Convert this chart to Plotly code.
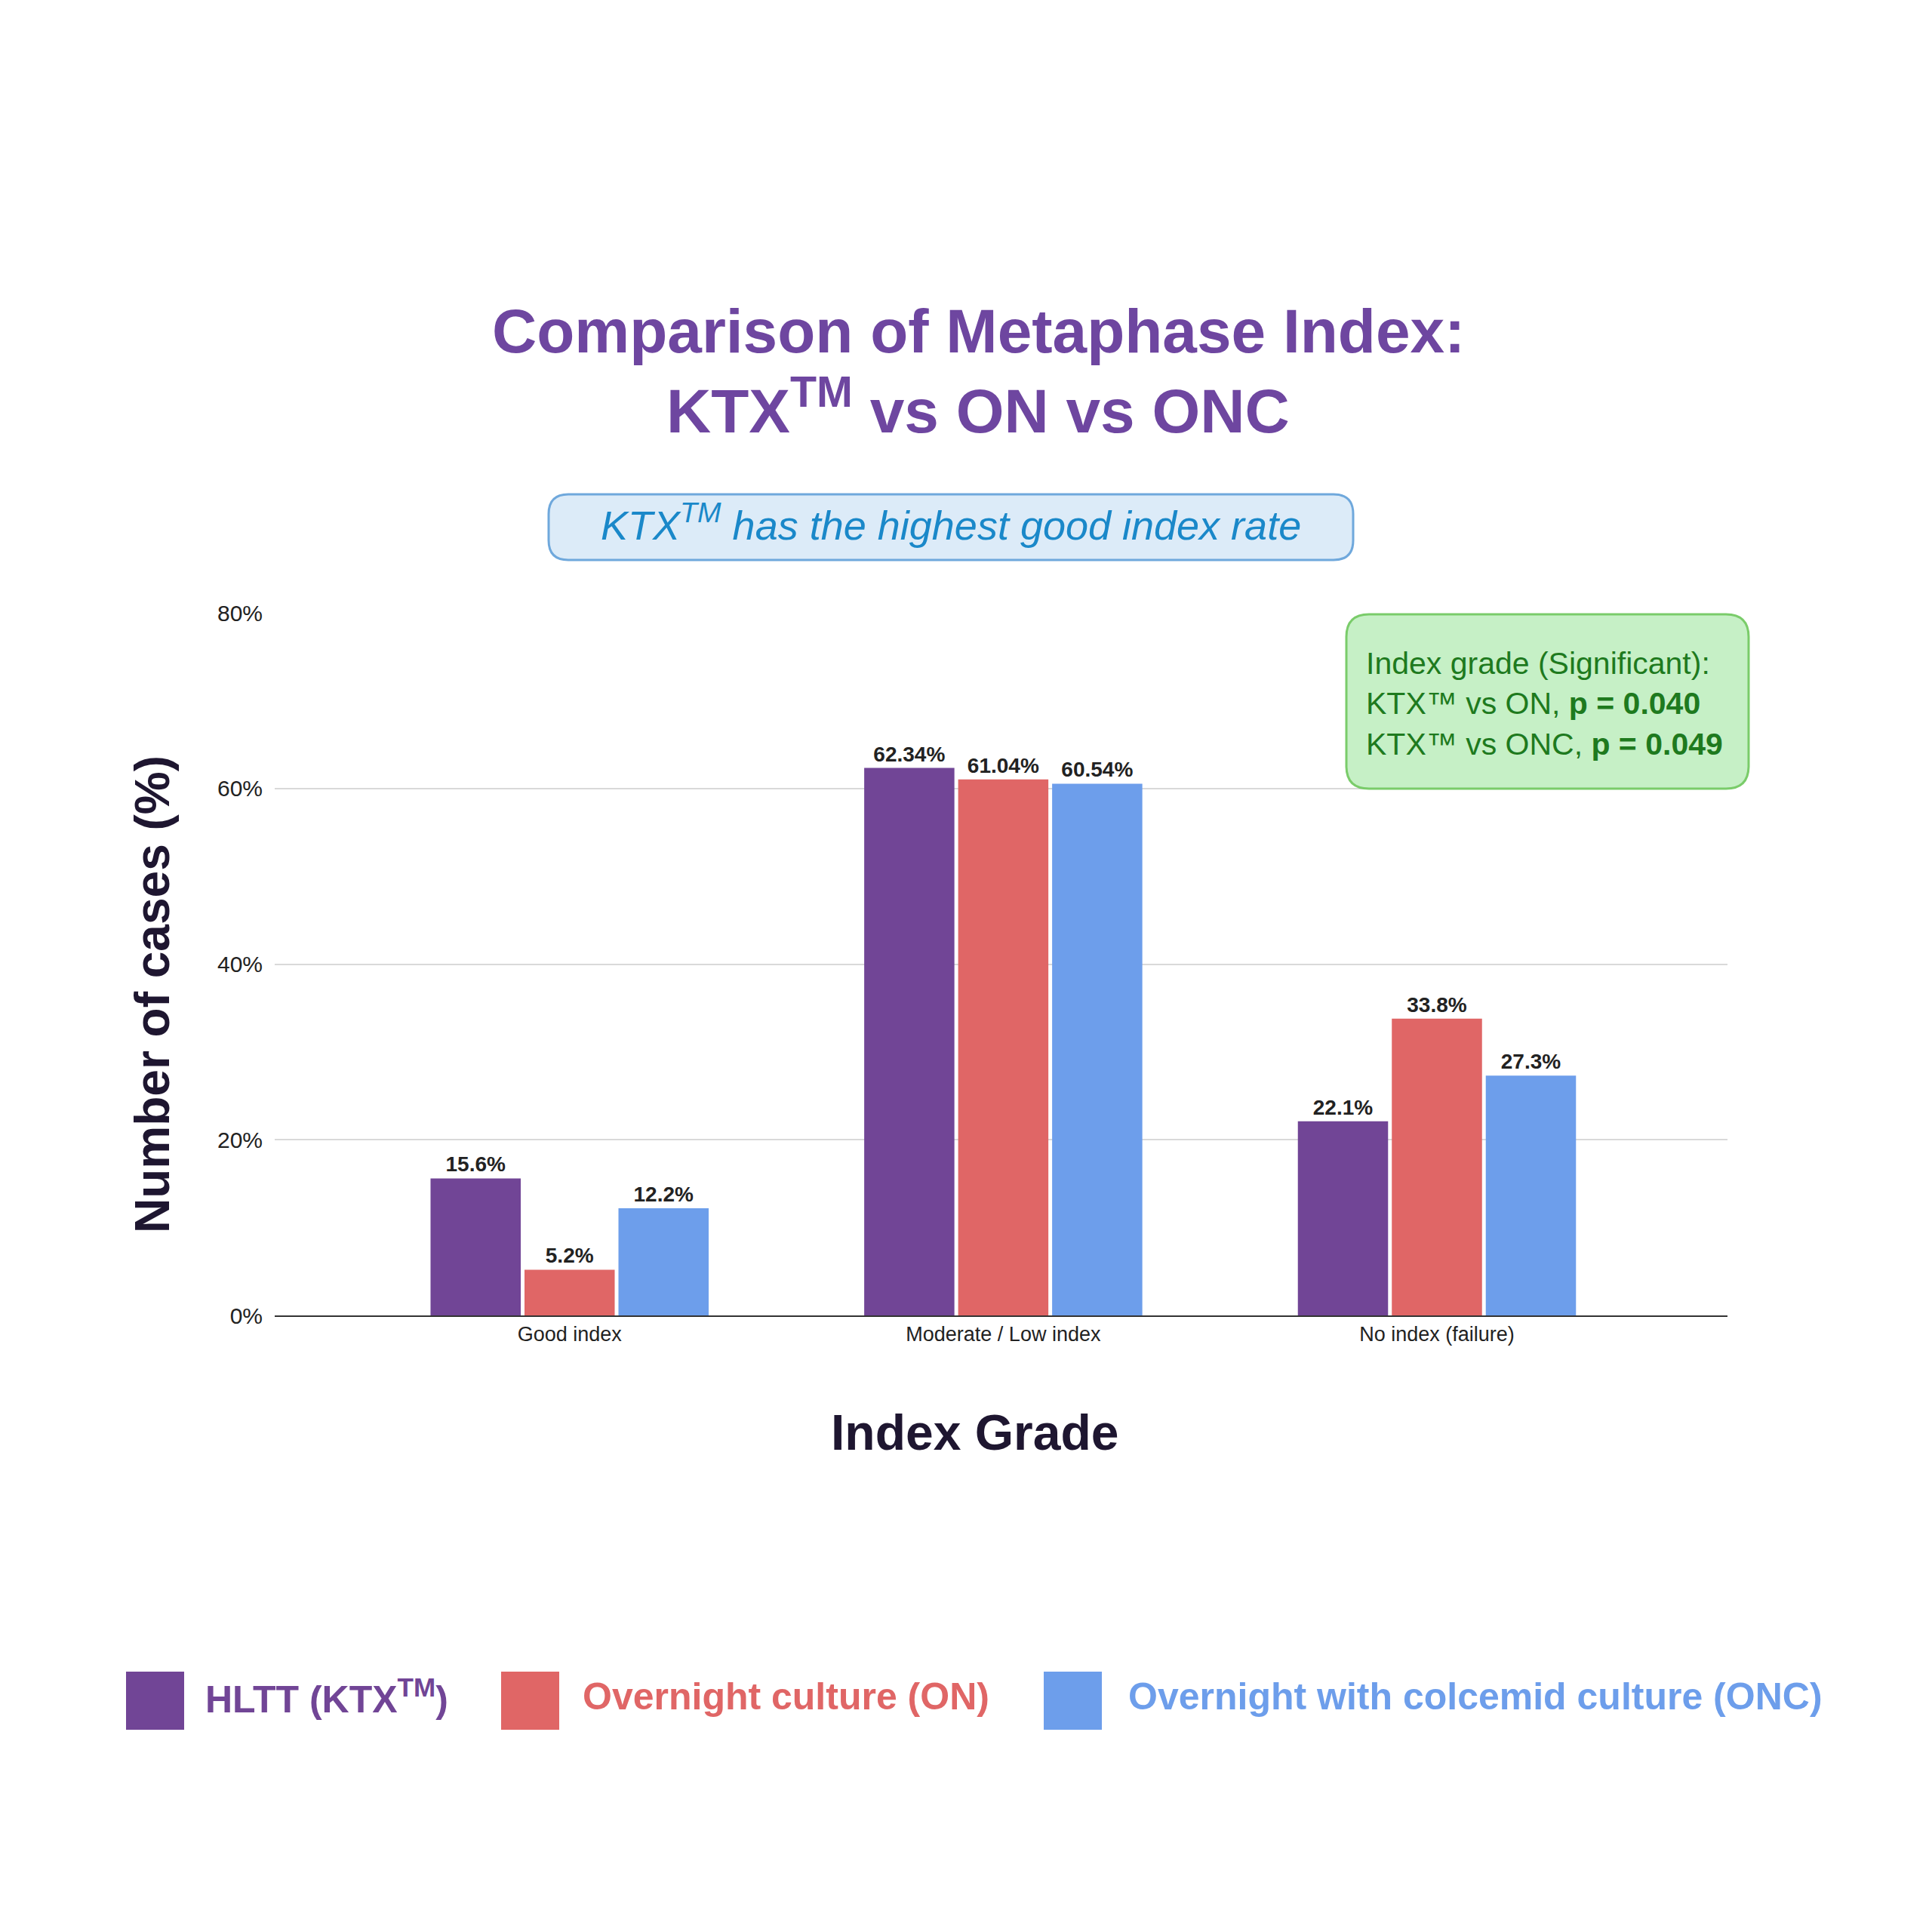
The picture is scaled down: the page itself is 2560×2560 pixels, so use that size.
import plotly.graph_objects as go

categories = ["Good index", "Moderate / Low index", "No index (failure)"]
series_names = ["HLTT (KTX<sup>TM</sup>)", "Overnight culture (ON)", "Overnight with colcemid culture (ONC)"]
ktx = [15.6, 62.34, 22.1]
on = [5.2, 61.04, 33.8]
onc = [12.2, 60.54, 27.3]
ktx_lbl = ["15.6%", "62.34%", "22.1%"]
on_lbl = ["5.2%", "61.04%", "33.8%"]
onc_lbl = ["12.2%", "60.54%", "27.3%"]
yticks = [0, 20, 40, 60, 80]
colors = ["#714596", "#E06666", "#6D9EEB"]
FONT = "Liberation Sans, Arial, sans-serif"

fig = go.Figure()
for vals, lbls, c, n in zip([ktx, on, onc], [ktx_lbl, on_lbl, onc_lbl], colors, series_names):
    fig.add_bar(x=categories, y=vals, text=lbls, textposition="outside", name=n,
                marker=dict(color=c, line=dict(width=0)),
                textfont=dict(family=FONT, size=28, color="#222222", weight="bold"),
                cliponaxis=False)

W = H = 2560
pl, pr, pt, pb = 356, 279, 804, 825
def pxp(x): return (x - pl) / (W - pl - pr)
def pyp(y): return (H - pb - y) / (H - pt - pb)

fig.update_layout(
    width=W, height=H, paper_bgcolor="white", plot_bgcolor="white",
    margin=dict(l=pl, r=pr, t=pt, b=pb),
    barmode="group", bargap=0.35, bargroupgap=0.04, showlegend=False,
    font=dict(family=FONT),
    xaxis=dict(range=[-0.68, 2.67], showline=True, linecolor="#333333", linewidth=2, ticks="",
               tickfont=dict(size=27, color="#222222")),
    yaxis=dict(range=[0, 80], tickvals=yticks, ticktext=[f"{v}%" for v in yticks],
               gridcolor="#D9D9D9", gridwidth=2, zeroline=False,
               tickfont=dict(size=30, color="#222222"), ticklabelstandoff=15),
)

def A(text, x, y, size, color, xanchor="center", **kw):
    return dict(text=text, x=pxp(x), y=pyp(y), xref="paper", yref="paper", showarrow=False,
                xanchor=xanchor, yanchor="middle", font=dict(size=size, color=color, family=FONT), **kw)

annotations = [
    A("<b>Comparison of Metaphase Index:</b>", 1288, 430, 82, "#6E46A0"),
    A("<b>KTX<sup>TM</sup> vs ON vs ONC</b>", 1288, 530, 82, "#6E46A0"),
    A("<i>KTX<sup>TM</sup> has the highest good index rate</i>", 1252, 684, 54, "#1A88C9"),
    A("Index grade (Significant):<br>KTX™ vs ON, <b>p = 0.040</b><br>KTX™ vs ONC, <b>p = 0.049</b>",
      1800, 924, 41, "#1E7A1E", xanchor="left", align="left"),
    A("<b>Number of cases (%)</b>", 194, 1310, 64, "#1E1630", textangle=-90),
    A("<b>Index Grade</b>", 1283, 1890, 66, "#1E1630"),
]
legend_pos = [(159, 262), (656, 762), (1375, 1485)]
for (sx, tx), c, n in zip(legend_pos, colors, series_names):
    annotations.append(A(f"<b>{n}</b>", tx, 2240, 50, c, xanchor="left"))
fig.update_layout(annotations=annotations)

def rrect(x0, y0, x1, y1, r):
    X = lambda v: f"{pxp(v):.5f}"
    Y = lambda v: f"{pyp(v):.5f}"
    return (f"M {X(x0+r)},{Y(y0)} L {X(x1-r)},{Y(y0)} Q {X(x1)},{Y(y0)} {X(x1)},{Y(y0+r)} "
            f"L {X(x1)},{Y(y1-r)} Q {X(x1)},{Y(y1)} {X(x1-r)},{Y(y1)} L {X(x0+r)},{Y(y1)} "
            f"Q {X(x0)},{Y(y1)} {X(x0)},{Y(y1-r)} L {X(x0)},{Y(y0+r)} Q {X(x0)},{Y(y0)} {X(x0+r)},{Y(y0)} Z")

shapes = [
    dict(type="path", xref="paper", yref="paper", path=rrect(719, 647, 1785, 734, 26),
         fillcolor="#DCEBF8", line=dict(color="#6FA8DC", width=3), layer="below"),
    dict(type="path", xref="paper", yref="paper", path=rrect(1776, 806, 2309, 1037, 30),
         fillcolor="#C6F0C6", line=dict(color="#7ACC6A", width=3), layer="above"),
]
for (sx, tx), c in zip(legend_pos, colors):
    shapes.append(dict(type="rect", xref="paper", yref="paper", x0=pxp(sx), x1=pxp(sx + 77),
                       y0=pyp(2284), y1=pyp(2207), fillcolor=c, line=dict(width=0)))
fig.update_layout(shapes=shapes)
fig.write_html("out.html")
